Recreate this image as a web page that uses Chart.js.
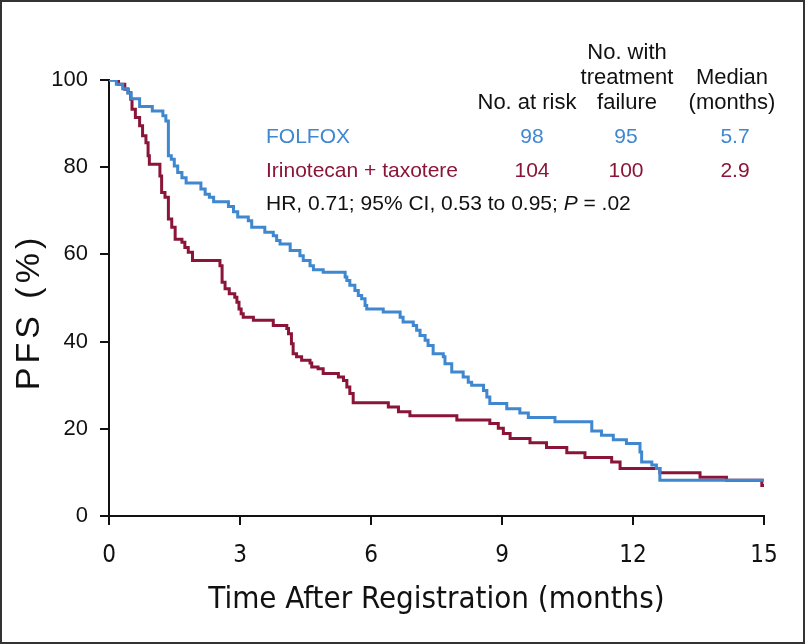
<!DOCTYPE html>
<html>
<head>
<meta charset="utf-8">
<script src="https://cdn.jsdelivr.net/npm/chart.js@4.4.1/dist/chart.umd.min.js"></script>
<style>
html,body{margin:0;padding:0;background:#fff;}
#wrap{width:805px;height:644px;position:relative;}
</style>
</head>
<body>
<div id="wrap"><canvas id="c" width="805" height="644"></canvas></div>
<script>
// ---- data ----
const xTickValues = [0, 3, 6, 9, 12, 15];
const yTickValues = [0, 20, 40, 60, 80, 100];

const folfoxTime = [0, 0.168, 0.314, 0.43, 0.507, 0.701, 0.992, 1.234, 1.302, 1.36, 1.427, 1.495, 1.573, 1.67, 1.766, 2.105, 2.202, 2.299, 2.396, 2.735, 2.851, 2.948, 3.19, 3.268, 3.568, 3.762, 3.839, 3.917, 4.149, 4.372, 4.449, 4.604, 4.682, 4.905, 5.408, 5.447, 5.515, 5.631, 5.709, 5.786, 5.864, 5.902, 6.28, 6.667, 6.735, 6.968, 7.045, 7.123, 7.239, 7.307, 7.423, 7.656, 7.694, 7.849, 8.111, 8.227, 8.305, 8.576, 8.653, 8.721, 9.109, 9.409, 9.603, 10.213, 11.056, 11.278, 11.549, 11.85, 12.16, 12.198, 12.431, 12.537, 12.615, 15];
const folfoxPFS = [100, 99, 98, 97, 95.7, 93.9, 92.9, 91.8, 90.6, 82.6, 81.8, 80.3, 78.8, 77.6, 76.4, 75, 73.8, 73.1, 72.1, 71, 69.8, 68.6, 67.7, 66.2, 65.1, 64.3, 63.2, 62.4, 60.9, 59.7, 58.6, 57.4, 56.5, 55.9, 54.8, 54, 52.9, 51.7, 50.6, 49.8, 48.3, 47.5, 46.8, 45.6, 44.5, 43.7, 42.6, 41.4, 40.3, 39.1, 37.2, 36.5, 34.9, 33, 31.9, 30.7, 30, 28.8, 27.3, 25.8, 24.6, 23.6, 22.6, 21.6, 19.5, 18.5, 17.5, 16.6, 14.7, 12.4, 11.7, 10.9, 8.2, 8.2];

const iriTime = [0, 0.217, 0.362, 0.439, 0.498, 0.527, 0.604, 0.701, 0.769, 0.846, 0.895, 0.924, 1.166, 1.205, 1.282, 1.36, 1.437, 1.515, 1.67, 1.737, 1.815, 1.912, 2.541, 2.59, 2.658, 2.754, 2.88, 2.929, 2.977, 3.026, 3.074, 3.307, 3.762, 4.072, 4.111, 4.178, 4.217, 4.295, 4.411, 4.604, 4.643, 4.788, 4.905, 5.253, 5.37, 5.447, 5.515, 5.592, 6.397, 6.629, 6.891, 7.966, 8.721, 8.915, 9.031, 9.186, 9.641, 10.019, 10.484, 10.9, 11.511, 11.704, 12.615, 13.535, 14.14, 14.95, 15];
const iriPFS = [100, 99, 97.9, 97.1, 95.6, 93.3, 91.4, 89.5, 87.2, 85.6, 82.6, 80.7, 78, 74.2, 73.1, 68.1, 66.2, 63.5, 62.8, 61.6, 60.5, 58.6, 57.4, 53.6, 52.1, 51, 50.2, 49, 47.5, 46.4, 45.6, 44.9, 43.7, 43, 41.8, 39.5, 37.2, 36.5, 35.7, 35.1, 34.2, 33.8, 32.7, 31.9, 31.1, 29.6, 28.1, 26, 25, 23.9, 23, 22, 21.2, 20.1, 18.9, 17.8, 16.8, 15.7, 14.5, 13.4, 12.4, 10.9, 9.9, 8.9, 8.2, 7, 7];

const groupNames = ['FOLFOX', 'Irinotecan + taxotere'];
const atRisk = ['98', '104'];
const withFailure = ['95', '100'];
const medianMonths = ['5.7', '2.9'];
const headerAtRisk = ['No. at risk'];
const headerFailure = ['No. with', 'treatment', 'failure'];
const headerMedian = ['Median', '(months)'];
const hrPrefix = 'HR, 0.71; 95% CI, 0.53 to 0.95; ';
const hrItalic = 'P';
const hrSuffix = ' = .02';
const xTitle = 'Time After Registration (months)';
const yTitle = 'PFS (%)';

// ---- styling ----
const BLUE = '#3f87cf';
const RED = '#8b1538';
const SANS = '"Liberation Sans", Arial, Helvetica, sans-serif';
const NARROW = '"Liberation Sans Narrow", "DejaVu Sans Condensed", "Liberation Sans", sans-serif';

const toPoints = (t, s) => t.map((v, i) => ({x: v, y: s[i]}));

const annotations = {
  id: 'annotations',
  afterDraw(chart) {
    const ctx = chart.ctx;
    ctx.save();
    ctx.textBaseline = 'middle';
    // y axis title (spaced like the reference)
    ctx.save();
    ctx.fillStyle = '#111';
    ctx.font = '34px ' + SANS;
    if ('letterSpacing' in ctx) ctx.letterSpacing = '4px';
    const yc = (chart.chartArea.top + chart.chartArea.bottom) / 2 + 14;
    ctx.translate(30, yc);
    ctx.rotate(-Math.PI / 2);
    ctx.textAlign = 'left';
    const w = ctx.measureText(yTitle).width;
    ctx.fillText(yTitle, -w / 2, 0);
    ctx.restore();
    // column headers (bottom aligned)
    ctx.fillStyle = '#111';
    ctx.textAlign = 'center';
    ctx.font = '22px ' + SANS;
    const rowH = 25, headBottom = 103;
    const drawHead = (lines, cx) => {
      lines.forEach((ln, i) => ctx.fillText(ln, cx, headBottom - (lines.length - 1 - i) * rowH));
    };
    drawHead(headerAtRisk, 527);
    drawHead(headerFailure, 627);
    drawHead(headerMedian, 732);
    // rows
    const colors = [BLUE, RED];
    const rowY = [137, 171];
    ctx.font = '21px ' + SANS;
    groupNames.forEach((g, i) => {
      ctx.fillStyle = colors[i];
      ctx.textAlign = 'left';
      ctx.fillText(g, 266, rowY[i]);
      ctx.textAlign = 'center';
      ctx.fillText(atRisk[i], 532, rowY[i]);
      ctx.fillText(withFailure[i], 626, rowY[i]);
      ctx.fillText(medianMonths[i], 735, rowY[i]);
    });
    // HR line
    ctx.fillStyle = '#111';
    ctx.textAlign = 'left';
    let x = 266;
    const y = 204;
    ctx.font = '21px ' + SANS;
    ctx.fillText(hrPrefix, x, y);
    x += ctx.measureText(hrPrefix).width;
    ctx.font = 'italic 21px ' + SANS;
    ctx.fillText(hrItalic, x, y);
    x += ctx.measureText(hrItalic).width;
    ctx.font = '21px ' + SANS;
    ctx.fillText(hrSuffix, x, y);
    // frame
    ctx.strokeStyle = '#333';
    ctx.lineWidth = 2;
    ctx.strokeRect(1, 1, chart.width - 2, chart.height - 2);
    ctx.restore();
  }
};

new Chart(document.getElementById('c'), {
  type: 'line',
  data: {
    datasets: [
      {label: groupNames[0], data: toPoints(folfoxTime, folfoxPFS), borderColor: BLUE, borderWidth: 3, stepped: 'before', pointRadius: 0, fill: false},
      {label: groupNames[1], data: toPoints(iriTime, iriPFS), borderColor: RED, borderWidth: 3, stepped: 'before', pointRadius: 0, fill: false}
    ]
  },
  options: {
    responsive: false,
    animation: false,
    events: [],
    layout: {padding: {left: 0, right: 41, top: 80, bottom: 0}},
    plugins: {legend: {display: false}, tooltip: {enabled: false}},
    scales: {
      x: {
        type: 'linear', min: 0, max: 15,
        afterBuildTicks: s => { s.ticks = xTickValues.map(v => ({value: v})); },
        afterFit: s => { s.height = 128; },
        grid: {display: true, drawOnChartArea: false, drawTicks: true, tickLength: 9, color: '#111', lineWidth: 2},
        border: {display: true, color: '#111', width: 2},
        ticks: {color: '#111', font: {family: NARROW, size: 24}, padding: 16, maxRotation: 0},
        title: {display: true, text: xTitle, color: '#111', font: {family: NARROW, size: 31}, padding: {top: 0, bottom: 25}}
      },
      y: {
        type: 'linear', min: 0, max: 100,
        afterBuildTicks: s => { s.ticks = yTickValues.map(v => ({value: v})); },
        afterFit: s => { s.width = 109; },
        grid: {display: true, drawOnChartArea: false, drawTicks: true, tickLength: 9, color: '#111', lineWidth: 2},
        border: {display: true, color: '#111', width: 2},
        ticks: {color: '#111', font: {family: SANS, size: 22}, padding: 12},
        title: {display: false, text: yTitle}
      }
    }
  },
  plugins: [annotations]
});
</script>
</body>
</html>
